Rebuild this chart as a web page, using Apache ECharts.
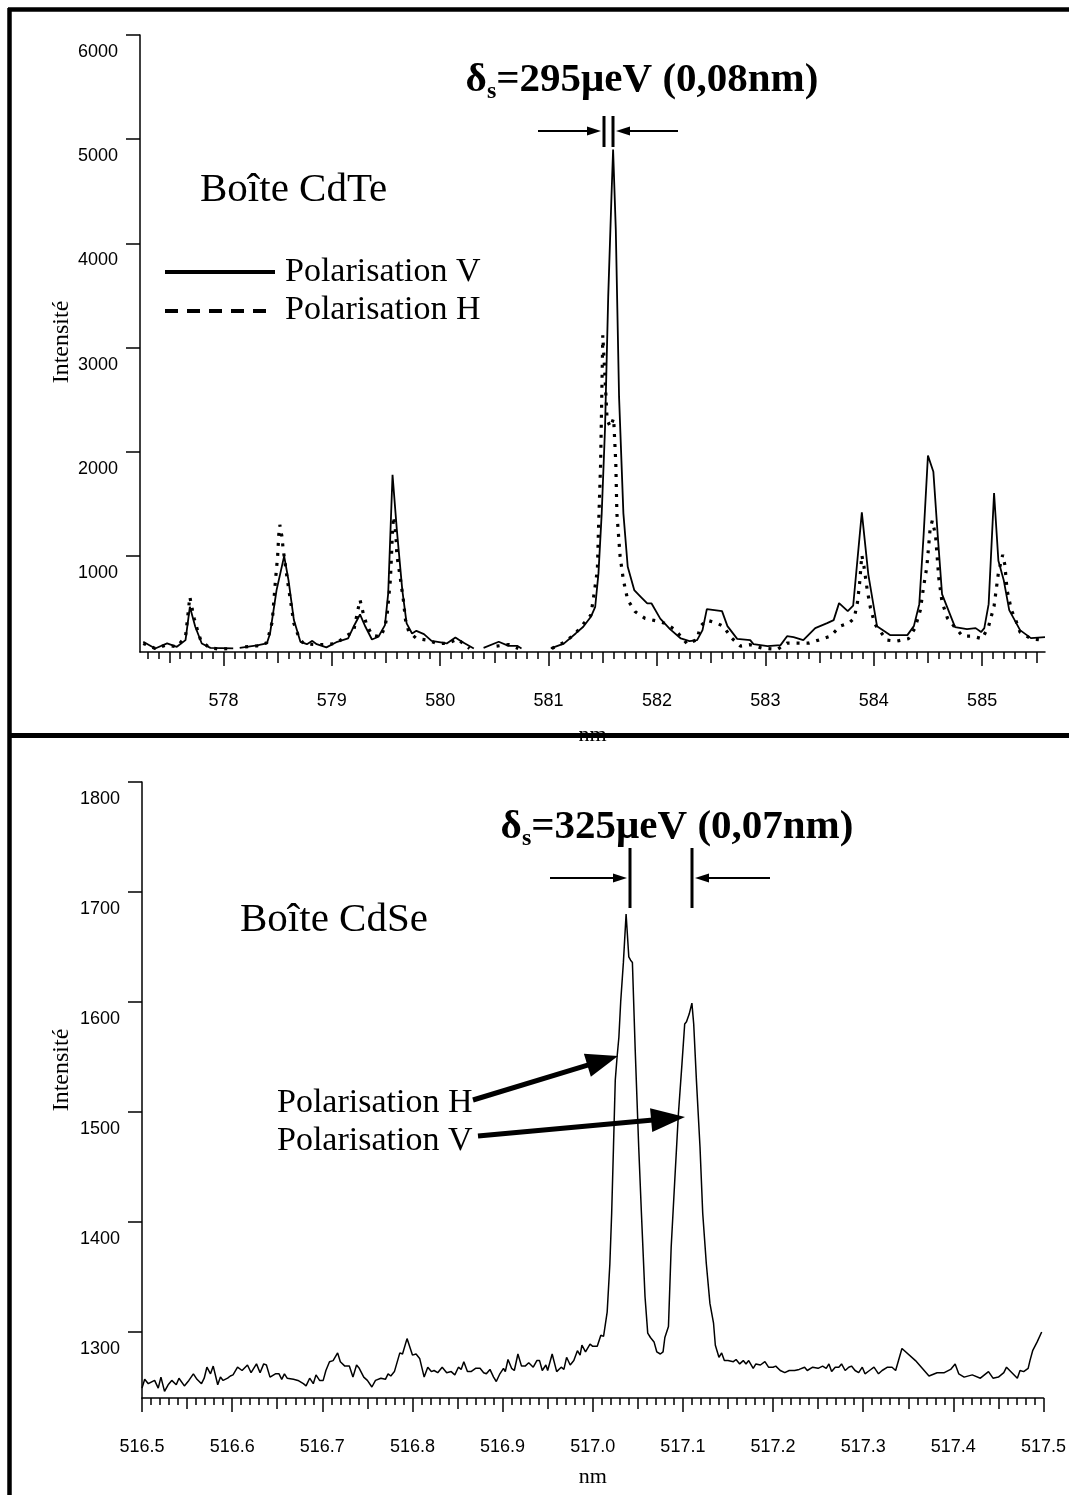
<!DOCTYPE html>
<html><head><meta charset="utf-8">
<script src="https://cdn.jsdelivr.net/npm/echarts@6/dist/echarts.min.js"></script>
<style>html,body{margin:0;padding:0;background:#fff}#c{width:1069px;height:1495px}</style>
</head><body><div id="c"></div>
<script>
// ---------- DATA ----------
const cdteXTicks = [578, 579, 580, 581, 582, 583, 584, 585];
const cdteYTicks = [1000, 2000, 3000, 4000, 5000, 6000];
const cdseXTicks = [516.5, 516.6, 516.7, 516.8, 516.9, 517.0, 517.1, 517.2, 517.3, 517.4, 517.5];
const cdseYTicks = [1300, 1400, 1500, 1600, 1700, 1800];

// CdTe, polarisation V (solid) [nm, intensity]
const cdteV = [[577.26,178],[577.37,114],[577.48,162],[577.57,130],[577.65,194],[577.69,514],[577.74,322],[577.80,162],[577.88,120],[578.09,114],[578.12,'-'],[578.15,120],[578.31,143],[578.40,162],[578.43,258],[578.49,674],[578.56,1000],[578.60,770],[578.65,386],[578.71,178],[578.77,155],[578.82,187],[578.86,155],[578.95,124],[579.05,178],[579.15,210],[579.20,322],[579.26,440],[579.31,322],[579.37,200],[579.43,226],[579.49,338],[579.52,642],[579.56,1780],[579.60,1250],[579.65,674],[579.69,354],[579.74,258],[579.78,283],[579.85,252],[579.92,187],[580.06,162],[580.14,220],[580.20,178],[580.31,114],[580.35,'-'],[580.40,120],[580.54,178],[580.63,139],[580.71,139],[580.75,114],[580.90,'-'],[581.02,114],[581.14,160],[581.25,258],[581.32,322],[581.39,418],[581.43,514],[581.46,834],[581.49,1410],[581.52,2210],[581.55,3490],[581.58,4450],[581.595,4900],[581.62,4130],[581.65,2530],[581.69,1410],[581.73,898],[581.79,674],[581.85,610],[581.91,546],[581.95,546],[582.03,400],[582.12,300],[582.22,210],[582.30,184],[582.37,194],[582.42,290],[582.46,491],[582.60,472],[582.65,328],[582.74,206],[582.86,194],[582.89,156],[583.02,136],[583.14,146],[583.20,232],[583.26,223],[583.35,194],[583.46,309],[583.57,357],[583.63,386],[583.68,549],[583.76,472],[583.81,524],[583.89,1420],[583.95,823],[584.03,328],[584.15,242],[584.31,242],[584.37,328],[584.42,539],[584.46,1202],[584.50,1965],[584.55,1810],[584.59,1202],[584.63,636],[584.75,319],[584.86,300],[584.94,309],[584.99,271],[585.02,309],[585.06,539],[585.11,1605],[585.15,955],[585.20,765],[585.25,482],[585.35,290],[585.45,213],[585.58,223]];

// CdTe, polarisation H (dotted)
const cdteH = [[577.26,162],[577.37,114],[577.47,146],[577.57,130],[577.65,226],[577.66,322],[577.69,610],[577.71,498],[577.73,402],[577.76,290],[577.79,194],[577.87,120],[577.97,107],[578.08,114],[578.12,'-'],[578.20,130],[578.31,139],[578.40,168],[578.45,370],[578.48,770],[578.50,1000],[578.51,1202],[578.52,1300],[578.54,1186],[578.55,1074],[578.59,770],[578.62,562],[578.65,354],[578.70,210],[578.74,162],[578.84,152],[578.95,152],[579.04,162],[579.12,226],[579.20,274],[579.24,482],[579.26,580],[579.29,450],[579.32,346],[579.37,242],[579.45,226],[579.49,322],[579.51,434],[579.52,546],[579.54,770],[579.55,994],[579.56,1250],[579.57,1380],[579.59,1218],[579.60,1010],[579.63,802],[579.66,578],[579.68,386],[579.71,274],[579.78,210],[579.88,194],[579.97,162],[580.07,162],[580.16,204],[580.27,114],[580.35,'-'],[580.52,136],[580.63,152],[580.72,114],[580.90,'-'],[581.03,114],[581.14,170],[581.24,250],[581.39,434],[581.42,642],[581.45,866],[581.46,1250],[581.48,1890],[581.49,2500],[581.50,3120],[581.52,2722],[581.54,2306],[581.57,2240],[581.60,2322],[581.62,1890],[581.63,1410],[581.66,994],[581.69,770],[581.73,578],[581.80,466],[581.89,402],[581.99,379],[582.08,354],[582.17,290],[582.28,156],[582.37,200],[582.40,328],[582.46,386],[582.55,357],[582.61,328],[582.69,213],[582.77,136],[582.86,150],[582.97,117],[583.11,105],[583.20,165],[583.31,165],[583.40,165],[583.49,194],[583.60,232],[583.69,328],[583.77,357],[583.82,405],[583.85,559],[583.87,746],[583.89,1010],[583.91,898],[583.94,674],[583.97,501],[584.01,347],[584.12,194],[584.21,184],[584.32,207],[584.38,309],[584.43,482],[584.46,708],[584.49,898],[584.52,1260],[584.54,1340],[584.57,1202],[584.60,790],[584.63,559],[584.68,405],[584.74,328],[584.82,232],[584.91,232],[585.00,207],[585.06,328],[585.11,520],[585.15,839],[585.19,1013],[585.21,914],[585.23,674],[585.27,482],[585.31,386],[585.35,271],[585.45,207],[585.55,194]];

// CdSe spectrum
const cdse = [[516.500,1249],[516.503,1257],[516.507,1253],[516.514,1256],[516.518,1249],[516.521,1259],[516.525,1246],[516.529,1252],[516.533,1256],[516.538,1252],[516.541,1258],[516.547,1251],[516.552,1256],[516.557,1262],[516.561,1257],[516.566,1253],[516.569,1258],[516.572,1268],[516.576,1262],[516.579,1269],[516.584,1252],[516.587,1259],[516.590,1256],[516.595,1258],[516.598,1260],[516.601,1261],[516.606,1268],[516.611,1265],[516.617,1270],[516.621,1263],[516.627,1271],[516.631,1263],[516.635,1271],[516.638,1270],[516.642,1259],[516.648,1262],[516.652,1262],[516.655,1257],[516.658,1262],[516.661,1258],[516.668,1257],[516.673,1256],[516.679,1253],[516.682,1251],[516.686,1258],[516.690,1253],[516.693,1261],[516.697,1256],[516.701,1256],[516.704,1265],[516.708,1273],[516.712,1274],[516.717,1281],[516.720,1273],[516.725,1269],[516.730,1269],[516.734,1259],[516.738,1270],[516.741,1267],[516.746,1259],[516.750,1256],[516.755,1250],[516.759,1256],[516.765,1258],[516.770,1257],[516.773,1262],[516.776,1260],[516.780,1264],[516.786,1281],[516.789,1280],[516.794,1294],[516.796,1295],[516.800,1279],[516.804,1280],[516.808,1276],[516.813,1259],[516.817,1268],[516.821,1264],[516.824,1265],[516.828,1263],[516.833,1268],[516.838,1263],[516.843,1264],[516.847,1261],[516.851,1268],[516.854,1266],[516.857,1273],[516.861,1264],[516.865,1264],[516.870,1267],[516.875,1267],[516.879,1263],[516.882,1262],[516.886,1266],[516.890,1259],[516.893,1255],[516.897,1262],[516.901,1267],[516.903,1264],[516.906,1275],[516.910,1267],[516.913,1265],[516.917,1280],[516.921,1269],[516.925,1269],[516.929,1272],[516.934,1268],[516.938,1274],[516.941,1274],[516.944,1265],[516.948,1270],[516.950,1265],[516.955,1280],[516.960,1264],[516.965,1268],[516.968,1266],[516.971,1277],[516.975,1270],[516.979,1274],[516.983,1283],[516.986,1279],[516.988,1288],[516.992,1282],[516.997,1289],[517.000,1287],[517.005,1287],[517.009,1297],[517.012,1296],[517.016,1318],[517.019,1362],[517.021,1408],[517.023,1468],[517.025,1529],[517.027,1550],[517.029,1568],[517.031,1600],[517.034,1636],[517.037,1680],[517.040,1641],[517.042,1638],[517.044,1636],[517.047,1559],[517.051,1468],[517.054,1408],[517.058,1332],[517.061,1299],[517.064,1295],[517.068,1291],[517.071,1282],[517.075,1280],[517.078,1282],[517.080,1295],[517.084,1305],[517.087,1377],[517.091,1438],[517.095,1498],[517.099,1544],[517.102,1580],[517.104,1582],[517.107,1589],[517.110,1599],[517.112,1580],[517.115,1529],[517.119,1468],[517.122,1408],[517.126,1362],[517.130,1326],[517.134,1308],[517.136,1288],[517.140,1277],[517.143,1281],[517.146,1274],[517.150,1274],[517.156,1273],[517.159,1275],[517.163,1271],[517.167,1274],[517.170,1271],[517.173,1274],[517.178,1267],[517.181,1271],[517.186,1270],[517.191,1273],[517.195,1268],[517.200,1268],[517.203,1269],[517.208,1265],[517.213,1263],[517.218,1265],[517.224,1265],[517.229,1266],[517.235,1268],[517.238,1265],[517.244,1268],[517.250,1267],[517.255,1269],[517.259,1267],[517.262,1271],[517.265,1264],[517.269,1268],[517.273,1268],[517.276,1271],[517.280,1265],[517.284,1268],[517.287,1269],[517.291,1265],[517.295,1263],[517.299,1268],[517.302,1262],[517.307,1265],[517.312,1268],[517.317,1262],[517.321,1265],[517.327,1268],[517.332,1268],[517.336,1265],[517.343,1285],[517.358,1274],[517.373,1260],[517.382,1263],[517.390,1263],[517.397,1266],[517.402,1271],[517.406,1262],[517.412,1259],[517.421,1261],[517.430,1258],[517.439,1264],[517.444,1258],[517.450,1259],[517.456,1263],[517.459,1268],[517.465,1263],[517.471,1258],[517.474,1265],[517.478,1264],[517.483,1267],[517.485,1274],[517.488,1283],[517.493,1291],[517.498,1300]];

// ---------- helpers ----------
function range(a, b, step, dec) { const out = []; const n = Math.round((b - a) / step); for (let i = 0; i <= n; i++) out.push(+(a + i * step).toFixed(dec)); return out; }
const cdteMinor = range(577.3, 585.5, 0.1, 1);
const cdteHalf = range(577.5, 585.5, 1, 1);
const cdseMinor = range(516.5, 517.5, 0.01, 2);
const cdseHalf = range(516.55, 517.45, 0.1, 2);

const SANS = '"Liberation Sans", Arial, sans-serif';
const SERIF = '"Liberation Serif", "Times New Roman", serif';
const BLACK = '#000';

function tickAxis(grid, min, max, vals, len, withLine, labelOpt, nameOpt) {
  const ax = {
    type: 'value', gridIndex: grid, min: min, max: max, position: 'bottom',
    axisLine: { show: withLine, onZero: false, lineStyle: { color: BLACK, width: 1.5 } },
    axisTick: { show: true, inside: false, length: len, customValues: vals, lineStyle: { color: BLACK, width: 1.5 } },
    axisLabel: labelOpt ? labelOpt : { show: false },
    splitLine: { show: false }
  };
  if (nameOpt) Object.assign(ax, nameOpt);
  return ax;
}

const chart = echarts.init(document.getElementById('c'), null, { renderer: 'canvas' });

const topXMin = 577.23, topXMax = 585.58;
const botXMin = 516.5, botXMax = 517.5;

const yLabel = vals => ({ customValues: vals, margin: 22, color: BLACK, fontFamily: SANS, fontSize: 18,
  verticalAlign: 'top', lineHeight: 18, padding: [8, 0, 0, 0], formatter: v => String(Math.round(v)) });

const option = {
  animation: false,
  backgroundColor: '#fff',
  grid: [
    { left: 140, top: 35, width: 905, height: 617, containLabel: false },
    { left: 142, top: 782, width: 904.5, height: 616, containLabel: false }
  ],
  xAxis: [
    tickAxis(0, topXMin, topXMax, cdteXTicks, 14, true,
      { show: true, customValues: cdteXTicks, margin: 40, color: BLACK, fontFamily: SANS, fontSize: 18, formatter: v => String(Math.round(v)) },
      { name: 'nm', nameLocation: 'middle', nameGap: 72, nameTextStyle: { fontFamily: SERIF, fontSize: 22, color: BLACK } }),
    tickAxis(0, topXMin, topXMax, cdteHalf, 11, false, null),
    tickAxis(0, topXMin, topXMax, cdteMinor, 7, false, null),
    tickAxis(1, botXMin, botXMax, cdseXTicks, 14, true,
      { show: true, customValues: cdseXTicks, margin: 40, color: BLACK, fontFamily: SANS, fontSize: 18, formatter: v => v.toFixed(1), showMinLabel: true, showMaxLabel: true },
      { name: 'nm', nameLocation: 'middle', nameGap: 68, nameTextStyle: { fontFamily: SERIF, fontSize: 22, color: BLACK } }),
    tickAxis(1, botXMin, botXMax, cdseHalf, 11, false, null),
    tickAxis(1, botXMin, botXMax, cdseMinor, 7, false, null)
  ],
  yAxis: [
    {
      type: 'value', gridIndex: 0, min: 80, max: 6000,
      axisLine: { show: true, lineStyle: { color: BLACK, width: 1.5 } },
      axisTick: { show: true, inside: false, length: 14, customValues: cdteYTicks, lineStyle: { color: BLACK, width: 1.5 } },
      axisLabel: yLabel(cdteYTicks),
      splitLine: { show: false }
    },
    {
      type: 'value', gridIndex: 1, min: 1240, max: 1800,
      axisLine: { show: true, lineStyle: { color: BLACK, width: 1.5 } },
      axisTick: { show: true, inside: false, length: 14, customValues: cdseYTicks, lineStyle: { color: BLACK, width: 1.5 } },
      axisLabel: yLabel(cdseYTicks),
      splitLine: { show: false }
    }
  ],
  series: [
    { name: 'Polarisation V', type: 'line', xAxisIndex: 0, yAxisIndex: 0, data: cdteV, showSymbol: false, symbol: 'none', connectNulls: false,
      lineStyle: { color: BLACK, width: 1.8 }, z: 3 },
    { name: 'Polarisation H', type: 'line', xAxisIndex: 0, yAxisIndex: 0, data: cdteH, showSymbol: false, symbol: 'none', connectNulls: false,
      lineStyle: { color: BLACK, width: 3.2, type: [3, 7], cap: 'butt' }, z: 2 },
    { name: 'CdSe', type: 'line', xAxisIndex: 3, yAxisIndex: 1, data: cdse, showSymbol: false, symbol: 'none',
      lineStyle: { color: BLACK, width: 1.5 }, z: 3 }
  ]
};
chart.setOption(option);

// ---------- annotations ----------
function arrow(x1, y1, x2, y2, w, hl, hw) {
  const a = Math.atan2(y2 - y1, x2 - x1);
  const bx = x2 - hl * Math.cos(a), by = y2 - hl * Math.sin(a);
  const px = -Math.sin(a) * hw / 2, py = Math.cos(a) * hw / 2;
  return [
    { type: 'line', z: 50, shape: { x1: x1, y1: y1, x2: bx + Math.cos(a) * 2, y2: by + Math.sin(a) * 2 }, style: { stroke: BLACK, lineWidth: w } },
    { type: 'polygon', z: 50, shape: { points: [[x2, y2], [bx + px, by + py], [bx - px, by - py]] }, style: { fill: BLACK } }
  ];
}
function seg(x1, y1, x2, y2, w, dash) {
  return { type: 'line', z: 50, shape: { x1: x1, y1: y1, x2: x2, y2: y2 }, style: { stroke: BLACK, lineWidth: w, lineDash: dash || null } };
}
function txt(x, y, text, font, align, rot) {
  return { type: 'text', z: 50, x: x, y: y, rotation: rot || 0,
    style: { text: text, font: font, fill: BLACK, textAlign: align || 'left', textVerticalAlign: 'middle' } };
}
function deltaText(cx, cy, rest) {
  return { type: 'text', z: 50, x: cx, y: cy,
    style: { text: '{a|δ}{b|s}{a|' + rest + '}', textAlign: 'center', textVerticalAlign: 'middle', fill: BLACK,
      rich: {
        a: { font: 'bold 41px ' + SERIF, fill: BLACK, lineHeight: 48, verticalAlign: 'middle' },
        b: { font: 'bold 24px ' + SERIF, fill: BLACK, lineHeight: 24, verticalAlign: 'bottom' }
      } } };
}

const g = [];
// frame
g.push(seg(8, 9.5, 1069, 9.5, 4.5));
g.push(seg(9.5, 8, 9.5, 1495, 4.5));
g.push(seg(8, 735.5, 1069, 735.5, 5));

// top panel
g.push(deltaText(642, 80, '=295μeV (0,08nm)'));
g.push(...arrow(538, 131, 601, 131, 2, 14, 9));
g.push(...arrow(678, 131, 616, 131, 2, 14, 9));
g.push(seg(604, 116, 604, 147, 3));
g.push(seg(613, 116, 613, 147, 3));
g.push(txt(200, 190, 'Boîte CdTe', '41px ' + SERIF));
g.push(seg(165, 272, 275, 272, 4));
g.push(seg(165, 311, 275, 311, 4, [13, 9]));
g.push(txt(285, 272, 'Polarisation V', '34px ' + SERIF));
g.push(txt(285, 310, 'Polarisation H', '34px ' + SERIF));
g.push(txt(62, 342, 'Intensité', '24px ' + SERIF, 'center', Math.PI / 2));

// bottom panel
g.push(deltaText(677, 827, '=325μeV (0,07nm)'));
g.push(...arrow(550, 878, 627, 878, 2, 14, 9));
g.push(...arrow(770, 878, 695, 878, 2, 14, 9));
g.push(seg(630, 848, 630, 908, 3));
g.push(seg(692, 848, 692, 908, 3));
g.push(txt(240, 920, 'Boîte CdSe', '41px ' + SERIF));
g.push(txt(277, 1103, 'Polarisation H', '34px ' + SERIF));
g.push(txt(277, 1141, 'Polarisation V', '34px ' + SERIF));
g.push(...arrow(473, 1100, 618, 1056, 5, 32, 24));
g.push(...arrow(478, 1136, 685, 1117, 5, 34, 24));
g.push(txt(62, 1070, 'Intensité', '24px ' + SERIF, 'center', Math.PI / 2));

chart.setOption({ graphic: { elements: g } });
</script>
</body></html>
